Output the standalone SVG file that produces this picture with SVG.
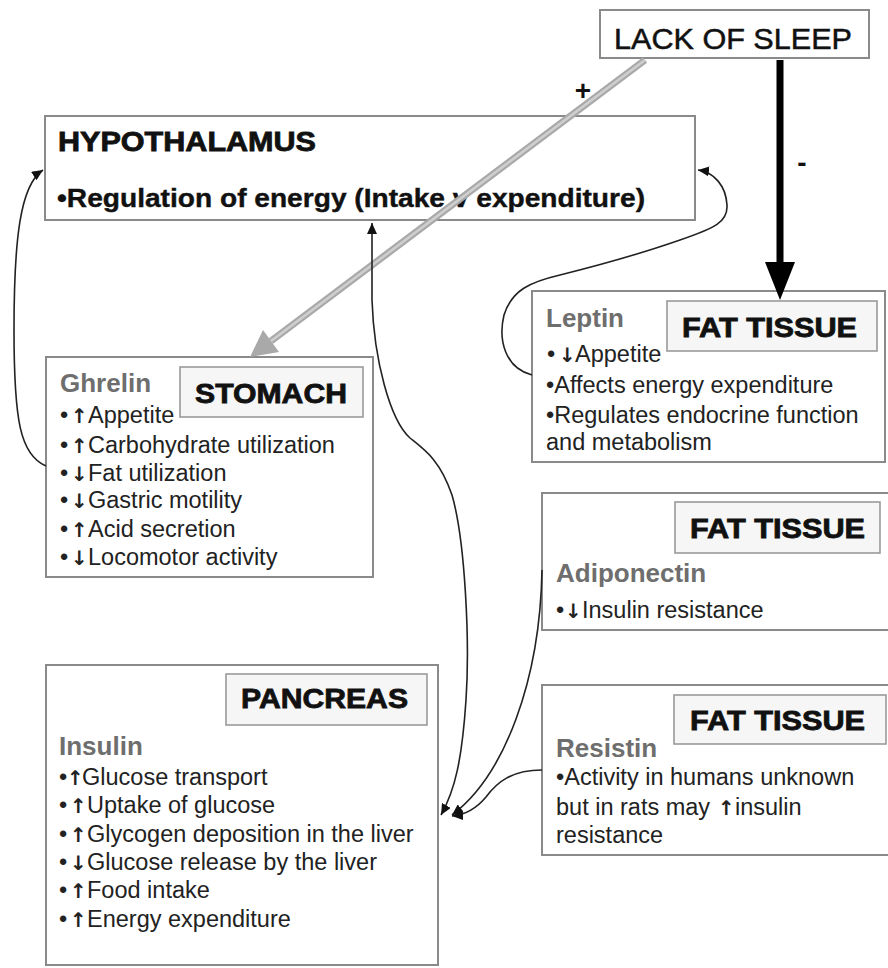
<svg xmlns="http://www.w3.org/2000/svg" width="888" height="968" viewBox="0 0 888 968">
<defs>
<style>
.box{fill:#fff;stroke:#8a8a8a;stroke-width:2}
.lbl{fill:#f6f6f6;stroke:#9a9a9a;stroke-width:1.6}
.title{font-family:"Liberation Sans",Arial,sans-serif;font-weight:bold;font-size:27px;fill:#111;stroke:#111;stroke-width:0.8}
.hname{font-family:"Liberation Sans",Arial,sans-serif;font-weight:bold;font-size:26px;fill:#6e6e6e}
.body{font-family:"Liberation Sans",Arial,sans-serif;font-size:23.5px;fill:#222}
.arw{font-family:"DejaVu Sans",sans-serif;font-size:20px;font-weight:bold;fill:#222}
.thin{fill:none;stroke:#222;stroke-width:1.6}
</style>
<marker id="ah" markerUnits="userSpaceOnUse" markerWidth="12" markerHeight="10" refX="11" refY="5" orient="auto-start-reverse">
<path d="M0,0 L11,5 L0,10 z" fill="#111"/>
</marker>
</defs>
<rect width="888" height="968" fill="#fff"/>

<g id="lack-of-sleep">
<rect class="box" x="600" y="10" width="269" height="48"/>
<text x="614" y="49" font-family="'Liberation Sans',Arial,sans-serif" font-size="29" fill="#111" stroke="#111" stroke-width="0.5" textLength="238" lengthAdjust="spacingAndGlyphs">LACK OF SLEEP</text>
</g>

<g id="hypothalamus">
<rect class="box" x="45" y="116" width="650" height="104"/>
<text class="title" x="58" y="151" textLength="258" lengthAdjust="spacingAndGlyphs">HYPOTHALAMUS</text>
<text x="57" y="207" font-family="'Liberation Sans',Arial,sans-serif" font-weight="bold" font-size="26" fill="#111" stroke="#111" stroke-width="0.4" textLength="588" lengthAdjust="spacingAndGlyphs">•Regulation of energy (Intake v expenditure)</text>
</g>

<g id="stomach">
<rect class="box" x="46" y="357" width="327" height="220"/>
<rect class="lbl" x="180" y="367" width="183" height="50"/>
<text class="title" x="195" y="403" textLength="152" lengthAdjust="spacingAndGlyphs">STOMACH</text>
<text class="hname" x="60" y="392">Ghrelin</text>
<text class="body" x="60" y="423">•<tspan class="arw" x="71">↑</tspan><tspan x="88">Appetite</tspan></text>
<text class="body" x="60" y="453">•<tspan class="arw" x="71">↑</tspan><tspan x="88">Carbohydrate utilization</tspan></text>
<text class="body" x="60" y="481">•<tspan class="arw" x="71">↓</tspan><tspan x="88">Fat utilization</tspan></text>
<text class="body" x="60" y="508">•<tspan class="arw" x="71">↓</tspan><tspan x="88">Gastric motility</tspan></text>
<text class="body" x="60" y="537">•<tspan class="arw" x="71">↑</tspan><tspan x="88">Acid secretion</tspan></text>
<text class="body" x="60" y="565">•<tspan class="arw" x="71">↓</tspan><tspan x="88">Locomotor activity</tspan></text>
</g>

<g id="fat-tissue-leptin">
<rect class="box" x="532" y="291" width="353" height="171"/>
<rect class="lbl" x="667" y="301" width="210" height="50"/>
<text class="title" x="682" y="337" textLength="175" lengthAdjust="spacingAndGlyphs">FAT TISSUE</text>
<text class="hname" x="546" y="327">Leptin</text>
<text class="body" x="547" y="362">•<tspan class="arw" x="559">↓</tspan><tspan x="575">Appetite</tspan></text>
<text class="body" x="546" y="393">•Affects energy expenditure</text>
<text class="body" x="546" y="423">•Regulates endocrine function</text>
<text class="body" x="546" y="450">and metabolism</text>
</g>

<g id="fat-tissue-adiponectin">
<rect class="box" x="542" y="493" width="352" height="137"/>
<rect class="lbl" x="675" y="502" width="205" height="51"/>
<text class="title" x="690" y="538" textLength="175" lengthAdjust="spacingAndGlyphs">FAT TISSUE</text>
<text class="hname" x="556" y="582">Adiponectin</text>
<text class="body" x="556" y="618">•<tspan class="arw" x="565">↓</tspan><tspan x="582">Insulin resistance</tspan></text>
</g>

<g id="fat-tissue-resistin">
<rect class="box" x="542" y="685" width="352" height="170"/>
<rect class="lbl" x="674" y="695" width="212" height="49"/>
<text class="title" x="690" y="730" textLength="175" lengthAdjust="spacingAndGlyphs">FAT TISSUE</text>
<text class="hname" x="556" y="757">Resistin</text>
<text class="body" x="556" y="785">•Activity in humans unknown</text>
<text class="body" x="556" y="815">but in rats may<tspan class="arw" x="718">↑</tspan><tspan x="735">insulin</tspan></text>
<text class="body" x="556" y="843">resistance</text>
</g>

<g id="pancreas">
<rect class="box" x="46" y="665" width="392" height="300"/>
<rect class="lbl" x="226" y="674" width="201" height="51"/>
<text class="title" x="241" y="708" textLength="167" lengthAdjust="spacingAndGlyphs">PANCREAS</text>
<text class="hname" x="59" y="755">Insulin</text>
<text class="body" x="59" y="785">•<tspan class="arw" x="67">↑</tspan><tspan x="82">Glucose transport</tspan></text>
<text class="body" x="59" y="813">•<tspan class="arw" x="70">↑</tspan><tspan x="87">Uptake of glucose</tspan></text>
<text class="body" x="59" y="842">•<tspan class="arw" x="70">↑</tspan><tspan x="87">Glycogen deposition in the liver</tspan></text>
<text class="body" x="59" y="870">•<tspan class="arw" x="70">↓</tspan><tspan x="87">Glucose release by the liver</tspan></text>
<text class="body" x="59" y="898">•<tspan class="arw" x="70">↑</tspan><tspan x="87">Food intake</tspan></text>
<text class="body" x="59" y="927">•<tspan class="arw" x="70">↑</tspan><tspan x="87">Energy expenditure</tspan></text>
</g>

<g id="connectors">
<line x1="645" y1="60" x2="271" y2="341" stroke="#a9a9a9" stroke-width="7"/>
<line x1="645" y1="60" x2="271" y2="341" stroke="#cfcfcf" stroke-width="2.5"/>
<polygon points="250,357 263,330 279,352" fill="#a9a9a9"/>
<line x1="780" y1="60" x2="780" y2="266" stroke="#000" stroke-width="7"/>
<polygon points="765,262 795,262 780,300" fill="#000"/>
<text x="583" y="100" text-anchor="middle" font-family="'Liberation Sans',Arial,sans-serif" font-weight="bold" font-size="28" fill="#111">+</text>
<text x="802" y="172" text-anchor="middle" font-family="'Liberation Sans',Arial,sans-serif" font-weight="bold" font-size="28" fill="#111">-</text>
<path class="thin" marker-end="url(#ah)" d="M 46 466 C 20 455, 14 420, 14 330 C 14 240, 20 185, 43 170"/>
<path class="thin" marker-end="url(#ah)" d="M 532 375 C 505 368, 498 340, 504 315 C 512 290, 530 282, 560 275 C 600 265, 640 254, 680 240 C 715 228, 728 222, 727 205 C 726 186, 714 172, 698 170"/>
<path class="thin" marker-start="url(#ah)" marker-end="url(#ah)" d="M 441 815 C 455 790, 462 760, 466 700 C 470 640, 465 540, 452 495 C 440 460, 425 450, 410 438 C 390 420, 374 360, 372 300 L 372 223"/>
<path class="thin" marker-end="url(#ah)" d="M 542 570 C 540 680, 505 775, 452 815"/>
<path class="thin" marker-end="url(#ah)" d="M 542 770 C 512 770, 497 782, 486 797 C 476 809, 464 815, 452 816"/>
</g>
</svg>
